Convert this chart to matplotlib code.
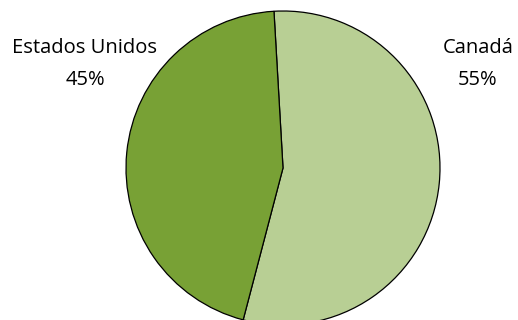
import matplotlib
matplotlib.use("Agg")
import matplotlib.pyplot as plt

# data
labels = ["Canadá", "Estados Unidos"]
shares = [55, 45]
colors = ["#b8cf94", "#78a135"]

plt.rcParams["font.family"] = ["Open Sans", "DejaVu Sans"]

W, H = 518, 320
fig = plt.figure(figsize=(W / 100, H / 100), dpi=100)
# circle: centre ~ (283, 168) px, radius ~157 px
cx, cy, r = 283, 168, 157
ax = fig.add_axes([(cx - r) / W, (H - cy - r) / H, 2 * r / W, 2 * r / H])
ax.pie(shares, colors=colors, startangle=93.3, counterclock=False,
       radius=1.0, wedgeprops=dict(edgecolor="black", linewidth=0.9))
ax.set_xlim(-1, 1)
ax.set_ylim(-1, 1)
ax.set_aspect("equal")
ax.axis("off")

# labels (baseline positions in px)
pos = {"Canadá": (478, 53), "Estados Unidos": (85, 53)}
for lab, val in zip(labels, shares):
    x, y = pos[lab]
    fig.text(x / W, 1 - y / H, lab, ha="center", va="baseline", fontsize=14.5)
    fig.text(x / W, 1 - (y + 32) / H, f"{val}%", ha="center", va="baseline", fontsize=14.5)

fig.savefig("out.png", dpi=100)
